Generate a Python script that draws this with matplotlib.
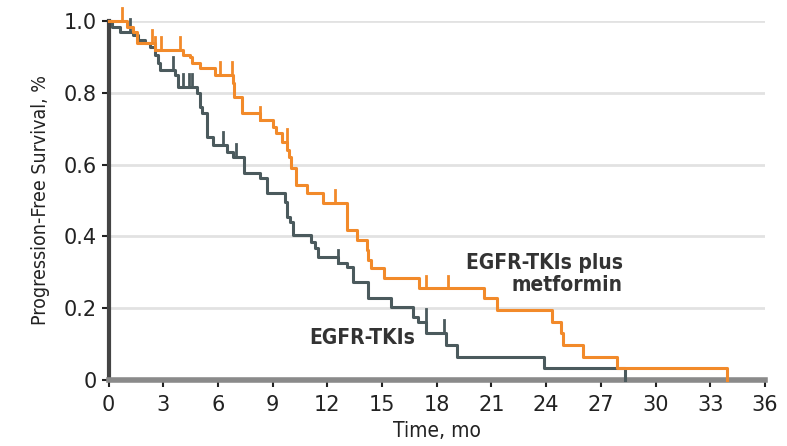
import matplotlib.pyplot as plt
import numpy as np

# Kaplan-Meier steps: time (months) of each drop and survival after it
tki_times = [0.2, 0.63, 1.34, 1.6, 2.0, 2.27, 2.55, 2.7, 2.8, 3.64, 3.8, 4.84, 5.0, 5.1,
             5.4, 5.7, 6.5, 6.8, 7.4, 8.3, 8.7, 9.67, 9.77, 9.93, 10.1, 11.1, 11.3, 11.5,
             12.56, 13.1, 13.4, 14.2, 15.5, 16.7, 16.95, 17.43, 18.5, 19.1, 23.9, 28.3]
tki_surv = [0.983, 0.97, 0.96, 0.947, 0.94, 0.928, 0.905, 0.883, 0.864, 0.85, 0.816, 0.80,
            0.76, 0.744, 0.677, 0.655, 0.635, 0.621, 0.577, 0.563, 0.52, 0.496, 0.454, 0.44,
            0.404, 0.384, 0.368, 0.343, 0.326, 0.315, 0.273, 0.228, 0.203, 0.175, 0.162,
            0.131, 0.097, 0.064, 0.033, 0.0]
tki_censor = [1.2, 3.55, 4.1, 4.4, 4.6, 6.3, 7.0, 12.6, 17.4, 18.4]

met_times = [1.0, 1.34, 1.56, 2.55, 4.1, 4.46, 4.6, 5.0, 5.83, 6.8, 6.9, 7.3, 8.3, 9.0,
             9.2, 9.5, 9.8, 9.9, 10.0, 10.3, 10.9, 11.75, 13.05, 13.1, 13.6, 14.15, 14.2,
             14.4, 15.1, 17.05, 20.6, 21.3, 24.3, 24.8, 24.9, 26.0, 27.9, 33.9]
met_surv = [0.983, 0.97, 0.94, 0.92, 0.905, 0.90, 0.883, 0.869, 0.85, 0.827, 0.788, 0.744,
            0.724, 0.705, 0.688, 0.663, 0.64, 0.62, 0.59, 0.543, 0.52, 0.493, 0.465, 0.418,
            0.39, 0.362, 0.334, 0.312, 0.284, 0.256, 0.228, 0.195, 0.162, 0.131, 0.097,
            0.064, 0.033, 0.0]
met_censor = [0.75, 2.4, 2.55, 2.9, 3.9, 6.1, 6.75, 8.3, 9.77, 12.4, 17.4, 18.6]

x_ticks = [0, 3, 6, 9, 12, 15, 18, 21, 24, 27, 30, 33, 36]
y_ticks = [0, 0.2, 0.4, 0.6, 0.8, 1.0]
y_tick_labels = ['0', '0.2', '0.4', '0.6', '0.8', '1.0']

plt.rcParams['font.family'] = ['DejaVu Sans']
plt.rcParams['font.stretch'] = 'condensed'

gray = '#4b5a5d'
orange = '#f28a2a'


def km_curve(ax, times, surv, censor, color):
    t = np.concatenate([[0], times])
    s = np.concatenate([[1.0], surv])
    ax.step(t, s, where='post', color=color, linewidth=2.2, clip_on=False, zorder=3)
    # censor ticks sit on the curve and point upward
    for c in censor:
        idx = np.searchsorted(t, c, side='right') - 1
        level = s[idx]
        ax.plot([c, c], [level, level + 0.035], color=color, linewidth=2,
                clip_on=False, zorder=3)


fig = plt.figure(figsize=(7.87, 4.46), dpi=100)
ax = fig.add_axes([0.138, 0.148, 0.834, 0.805])

for yv in y_ticks[1:]:
    ax.axhline(yv, color='#e2e2e2', linewidth=2, zorder=1)

km_curve(ax, tki_times, tki_surv, tki_censor, gray)
km_curve(ax, met_times, met_surv, met_censor, orange)

ax.set_xlim(0, 36)
ax.set_ylim(0, 1.0)
ax.set_xticks(x_ticks)
ax.set_yticks(y_ticks)
ax.set_yticklabels(y_tick_labels)
ax.tick_params(axis='both', labelsize=15, colors='#222222', length=5, width=1.5)
ax.tick_params(axis='x', pad=6)
for lbl in ax.get_xticklabels() + ax.get_yticklabels():
    lbl.set_fontstretch('normal')

for side in ['top', 'right']:
    ax.spines[side].set_visible(False)
ax.spines['left'].set_color('#444444')
ax.spines['left'].set_linewidth(3)
ax.spines['bottom'].set_color('#8a8a8a')
ax.spines['bottom'].set_linewidth(4)

ax.set_xlabel('Time, mo', fontsize=15, color='#222222', labelpad=4)
ax.set_ylabel('Progression-Free Survival, %', fontsize=14, color='#222222', labelpad=10)

ax.text(28.2, 0.295, 'EGFR-TKIs plus\nmetformin', fontsize=15, fontweight='bold',
        color='#333333', ha='right', va='center', multialignment='right', linespacing=1.15)
ax.text(13.9, 0.117, 'EGFR-TKIs', fontsize=15, fontweight='bold',
        color='#333333', ha='center', va='center')

fig.savefig('out.png', dpi=100)
